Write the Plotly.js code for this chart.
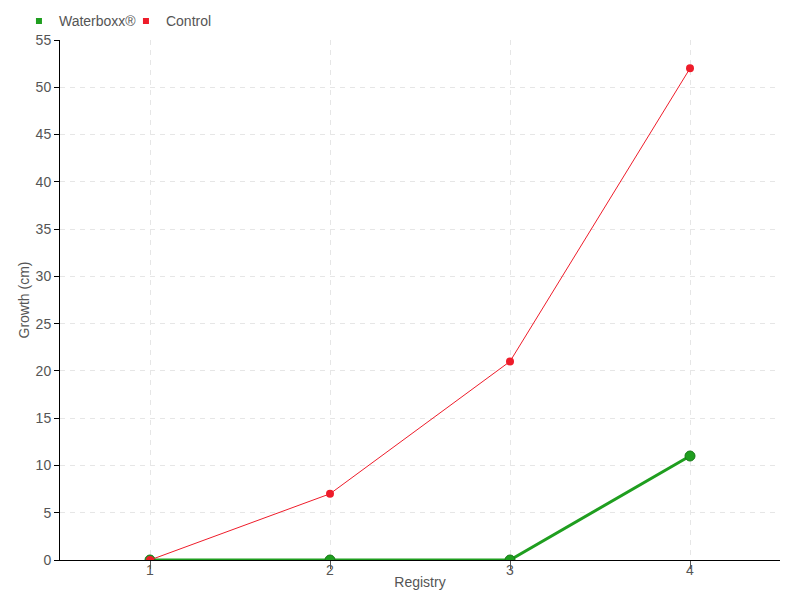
<!DOCTYPE html>
<html><head><meta charset="utf-8">
<script src="https://cdn.plot.ly/plotly-3.0.1.min.js"></script>
<style>body{margin:0}#c{width:800px;height:600px}</style>
</head><body><div id="c"></div>
<script>
const registry = [1, 2, 3, 4];
const waterboxx = [0, 0, 0, 11];
const control = [0, 7, 21, 52];
const yTicks = [0,5,10,15,20,25,30,35,40,45,50,55];

const green = '#1f9e1f';
const red = '#ee1c2a';
const fnt = "Liberation Sans, Arial, sans-serif";

const data = [
  {x: registry, y: waterboxx, mode: 'lines+markers', name: 'Waterboxx®', showlegend: false,
   line: {color: green, width: 3}, marker: {color: green, size: 10, line: {color: '#167a16', width: 1}}},
  {x: registry, y: control, mode: 'lines+markers', name: 'Control', showlegend: false,
   line: {color: red, width: 1}, marker: {color: red, size: 8}},
  {x: [null], y: [null], mode: 'markers', name: 'Waterboxx®', marker: {color: green, symbol: 'square', size: 6}},
  {x: [null], y: [null], mode: 'markers', name: 'Control', marker: {color: red, symbol: 'square', size: 6}}
];

const layout = {
  width: 800, height: 600,
  margin: {l: 60, r: 20, t: 40, b: 40, autoexpand: false},
  paper_bgcolor: '#fff', plot_bgcolor: '#fff',
  font: {family: fnt, color: '#555', size: 14},
  showlegend: true,
  legend: {orientation: 'h', x: -0.057, xanchor: 'left', y: 1.005, yanchor: 'bottom',
           entrywidth: 62, font: {size: 14, color: '#555'}, bgcolor: 'rgba(0,0,0,0)'},
  xaxis: {
    range: [0.5, 4.5], tickvals: registry, ticktext: registry.map(String),
    showline: true, linecolor: '#000', linewidth: 1, zeroline: false,
    showgrid: true, gridcolor: '#e6e6e6', griddash: '5px,5px', gridwidth: 1,
    ticks: 'outside', ticklen: 8, tickcolor: '#555', ticklabelstandoff: -11,
    tickfont: {size: 14, color: '#555'},
    title: {text: 'Registry', standoff: 0, font: {size: 14, color: '#555'}}
  },
  yaxis: {
    range: [0, 55], tickvals: yTicks,
    showline: true, linecolor: '#000', linewidth: 1, zeroline: false,
    showgrid: true, gridcolor: '#e6e6e6', griddash: '5px,5px', gridwidth: 1,
    ticks: 'outside', ticklen: 5, tickcolor: '#000',
    tickfont: {size: 14, color: '#555'},
    title: {text: 'Growth (cm)', standoff: 2, font: {size: 14, color: '#555'}}
  }
};
Plotly.newPlot('c', data, layout, {displayModeBar: false});
</script></body></html>
